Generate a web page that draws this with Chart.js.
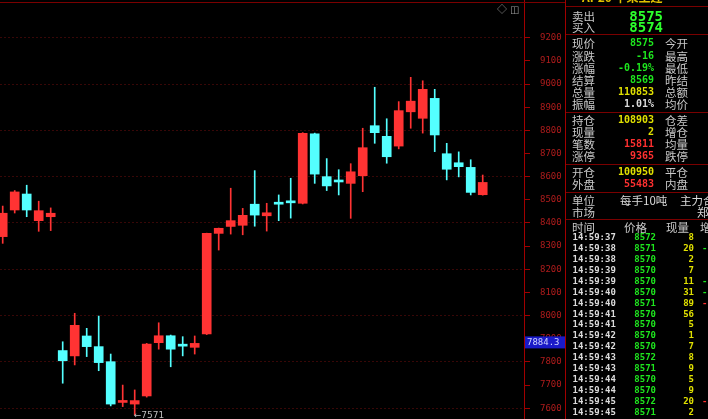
<!DOCTYPE html>
<html lang="zh-CN">
<head>
<meta charset="UTF-8">
<meta name="viewport" content="width=708, initial-scale=1.0">
<title>苹果主连 K线</title>
<script src="https://cdn.jsdelivr.net/npm/chart.js"></script>
<style>
    html, body { margin: 0; padding: 0; background: #000; }
    body {
        position: relative;
        width: 708px;
        height: 419px;
        overflow: hidden;
        font-family: "Noto Sans CJK SC", "DejaVu Sans", sans-serif;
    }
    #kline { position: absolute; left: 0; top: 0; }
    .hline { position: absolute; height: 1px; background: #7a0000; }
    .vline { position: absolute; top: 0; width: 1px; height: 419px; background: #a00000; }
    .t { position: absolute; white-space: nowrap; }
    .lbl { color: #c8c8c8; font-size: 11.5px; }
    .num { font-family: "DejaVu Sans Mono", monospace; font-weight: bold; font-size: 10px; }
    .tick { font-family: "DejaVu Sans Mono", monospace; font-weight: bold; font-size: 9px; }
    .big { font-size: 14px; }
    .g { color: #1ee61e; }
    .G { color: #2cff2c; }
    .y { color: #e0e000; }
    .r { color: #ff3030; }
    .w { color: #dcdcdc; }
    .title { color: #e0c000; font-size: 12px; font-weight: bold; }
    #icons { position: absolute; left: 497px; top: 1px; color: #9a9a9a; font-size: 10px; letter-spacing: 3px; }
</style>
</head>
<body>
<canvas id="kline" width="565" height="419"></canvas>
<div class="hline" style="left:0; top:2px; width:565px;"></div>
<div id="icons">◇◫</div>
<div class="vline" style="left:565px;"></div>
<div id="panel"></div>

<script>
    // 日K线 (开, 高, 低, 收)
    const opens  = [8341, 8456, 8525, 8410, 8427, 7849, 7826, 7912, 7866, 7801, 7625, 7618, 7653, 7883, 7913, 7870, 7863, 7921, 8355, 8385, 8390,
                    8481, 8431, 8483, 8489, 8485, 8785, 8600, 8579, 8571, 8604, 8820, 8774, 8732, 8880, 8852, 8938, 8699, 8660, 8640, 8522];
    const highs  = [8473, 8540, 8563, 8494, 8465, 7887, 8010, 7945, 7998, 7834, 7700, 7679, 7880, 7969, 7916, 7909, 7912, 8356, 8378, 8550, 8463,
                    8626, 8485, 8521, 8593, 8790, 8788, 8678, 8630, 8656, 8809, 8986, 8850, 8924, 9029, 9014, 8977, 8744, 8707, 8673, 8607];
    const lows   = [8312, 8443, 8427, 8364, 8367, 7708, 7787, 7823, 7762, 7610, 7607, 7571, 7648, 7855, 7779, 7826, 7834, 7918, 8283, 8352, 8349,
                    8386, 8365, 8410, 8421, 8482, 8571, 8540, 8521, 8420, 8535, 8744, 8658, 8720, 8809, 8788, 8708, 8586, 8599, 8521, 8520];
    const closes = [8442, 8534, 8456, 8453, 8442, 7805, 7958, 7866, 7797, 7618, 7627, 7633, 7877, 7913, 7855, 7868, 7880, 8355, 8377, 8410, 8433,
                    8434, 8444, 8481, 8487, 8787, 8611, 8560, 8577, 8621, 8725, 8790, 8686, 8885, 8926, 8977, 8780, 8632, 8643, 8532, 8575];

    // 价格坐标刻度
    const priceTicks = [7600, 7700, 7800, 7900, 8000, 8100, 8200, 8300, 8400, 8500, 8600, 8700, 8800, 8900, 9000, 9100, 9200];
    const cursorPrice = 7884.3;

    // 右侧报价
    const askBid = [['卖出', '8575'], ['买入', '8574']];
    const quoteLabels = ['现价', '涨跌', '涨幅', '结算', '总量', '振幅', '持仓', '现量', '笔数', '涨停', '开仓', '外盘'];
    const quoteValues = ['8575', '-16', '-0.19%', '8569', '110853', '1.01%', '108903', '2', '15811', '9365', '100950', '55483'];
    const quoteColors = ['g', 'g', 'g', 'g', 'y', 'w', 'y', 'y', 'r', 'r', 'y', 'r'];
    const quoteLabels2 = ['今开', '最高', '最低', '昨结', '总额', '均价', '仓差', '增仓', '均量', '跌停', '平仓', '内盘'];

    // 分笔成交
    const tradeTimes  = ['14:59:37', '14:59:38', '14:59:38', '14:59:39', '14:59:39', '14:59:40', '14:59:40', '14:59:41', '14:59:41',
                         '14:59:42', '14:59:42', '14:59:43', '14:59:43', '14:59:44', '14:59:44', '14:59:45', '14:59:45'];
    const tradePrices = [8572, 8571, 8570, 8570, 8570, 8570, 8571, 8570, 8570, 8570, 8570, 8572, 8571, 8570, 8570, 8572, 8571];
    const tradeVols   = [8, 20, 2, 7, 11, 31, 89, 56, 5, 1, 7, 8, 9, 5, 9, 20, 2];
    const tradeFlags  = ['', 'g', '', '', 'g', 'g', 'r', '', '', '', '', '', '', '', '', 'r', ''];

    const UP = 'rgb(255,51,51)';
    const DOWN = 'rgb(84,255,255)';

    const idx = opens.map((_, i) => i);
    const colors = idx.map(i => closes[i] >= opens[i] ? UP : DOWN);

    // 标注: 最低价箭头和光标价格
    const marksPlugin = {
        id: 'marks',
        afterDatasetsDraw(chart) {
            const { ctx, scales: { x, y } } = chart;
            ctx.save();
            const lowVal = Math.min(...lows);
            const li = lows.indexOf(lowVal);
            ctx.font = '9px "DejaVu Sans"';
            ctx.textBaseline = 'middle';
            ctx.fillStyle = '#bdbdbd';
            ctx.fillText('←' + lowVal, x.getPixelForValue(li) - 1, y.getPixelForValue(lowVal) + 1);

            const cy = y.getPixelForValue(cursorPrice);
            ctx.fillStyle = '#1a1ac8';
            ctx.fillRect(y.left + 1, cy - 6, y.width - 1, 12);
            ctx.fillStyle = '#d0d4ff';
            ctx.font = '9px "DejaVu Sans Mono"';
            ctx.fillText(cursorPrice.toFixed(1), y.left + 3, cy);
            ctx.restore();
        }
    };

    new Chart(document.getElementById('kline').getContext('2d'), {
        type: 'bar',
        data: {
            datasets: [
                {
                    label: '实体',
                    data: idx.map(i => ({ x: i, y: [Math.min(opens[i], closes[i]), Math.max(opens[i], closes[i])] })),
                    backgroundColor: colors,
                    barThickness: 9,
                    minBarLength: 2,
                    grouped: false,
                    order: 0
                },
                {
                    label: '影线',
                    data: idx.map(i => ({ x: i, y: [lows[i], highs[i]] })),
                    backgroundColor: colors,
                    barThickness: 1,
                    grouped: false,
                    order: 1
                }
            ]
        },
        options: {
            responsive: false,
            animation: false,
            devicePixelRatio: 1,
            layout: { padding: 0 },
            plugins: {
                legend: { display: false },
                tooltip: { enabled: false }
            },
            scales: {
                x: {
                    type: 'linear',
                    min: -0.225,
                    max: 43.44,
                    offset: false,
                    display: false
                },
                y: {
                    position: 'right',
                    min: 7553.5,
                    max: 9362.8,
                    afterBuildTicks: s => { s.ticks = priceTicks.map(v => ({ value: v })); },
                    afterFit: s => { s.width = 41; s.paddingTop = 0; s.paddingBottom = 0; },
                    ticks: {
                        color: '#b01c1c',
                        font: { family: 'DejaVu Sans Mono', size: 9 },
                        padding: 10,
                        callback: v => String(v)
                    },
                    grid: {
                        color: c => (c.tick && c.tick.value % 200 === 0) ? '#380707' : 'rgba(0,0,0,0)',
                        tickColor: '#a00000',
                        tickLength: 6
                    },
                    border: { color: '#a00000', dash: [2, 2] }
                }
            }
        },
        plugins: [marksPlugin]
    });

    // 右侧面板
    const panel = document.getElementById('panel');
    function put(text, x, yc, cls, lh, rightW) {
        const el = document.createElement('div');
        el.className = 't ' + cls;
        el.textContent = text;
        el.style.lineHeight = lh + 'px';
        el.style.top = (yc - lh / 2) + 'px';
        if (rightW) {
            el.style.left = (x - rightW) + 'px';
            el.style.width = rightW + 'px';
            el.style.textAlign = 'right';
        } else {
            el.style.left = x + 'px';
        }
        panel.appendChild(el);
    }
    function line(y) {
        const el = document.createElement('div');
        el.className = 'hline';
        el.style.left = '566px';
        el.style.top = y + 'px';
        el.style.width = '142px';
        panel.appendChild(el);
    }

    put('AP20 苹果主连', 582, -3, 'title', 14);
    [6, 34, 112, 164, 192, 219].forEach(line);

    const askRows = [15.7, 27.3];
    askBid.forEach((r, i) => {
        put(r[0], 572, askRows[i], 'lbl', 12);
        put(r[1], 663, askRows[i], 'num big G', 14, 60);
    });

    const quoteRows = [43.3, 55.7, 68, 80, 92.3, 104.3, 120, 132.3, 144.3, 156, 172.3, 184];
    quoteLabels.forEach((lab, i) => {
        put(lab, 572, quoteRows[i], 'lbl', 12);
        put(quoteValues[i], 654, quoteRows[i], 'num ' + quoteColors[i], 12, 60);
        put(quoteLabels2[i], 665, quoteRows[i], 'lbl', 12);
    });

    put('单位', 572, 200, 'lbl', 12);
    put('每手10吨', 620, 200, 'lbl w', 12);
    put('主力合约', 680, 200, 'lbl w', 12);
    put('市场', 572, 212, 'lbl', 12);
    put('郑州商品', 697, 212, 'lbl w', 12);

    put('时间', 572, 227, 'lbl', 11);
    put('价格', 624, 227, 'lbl', 11);
    put('现量', 666, 227, 'lbl', 11);
    put('增仓', 700, 227, 'lbl', 11);

    tradeTimes.forEach((t, i) => {
        const yc = 237.7 + i * 10.9;
        put(t, 572.5, yc, 'tick w', 11);
        put(String(tradePrices[i]), 656, yc, 'tick g', 11, 40);
        put(String(tradeVols[i]), 694, yc, 'tick y', 11, 30);
        if (tradeFlags[i]) put('-', 702, yc, 'tick ' + tradeFlags[i], 11);
    });
</script>
</body>
</html>
